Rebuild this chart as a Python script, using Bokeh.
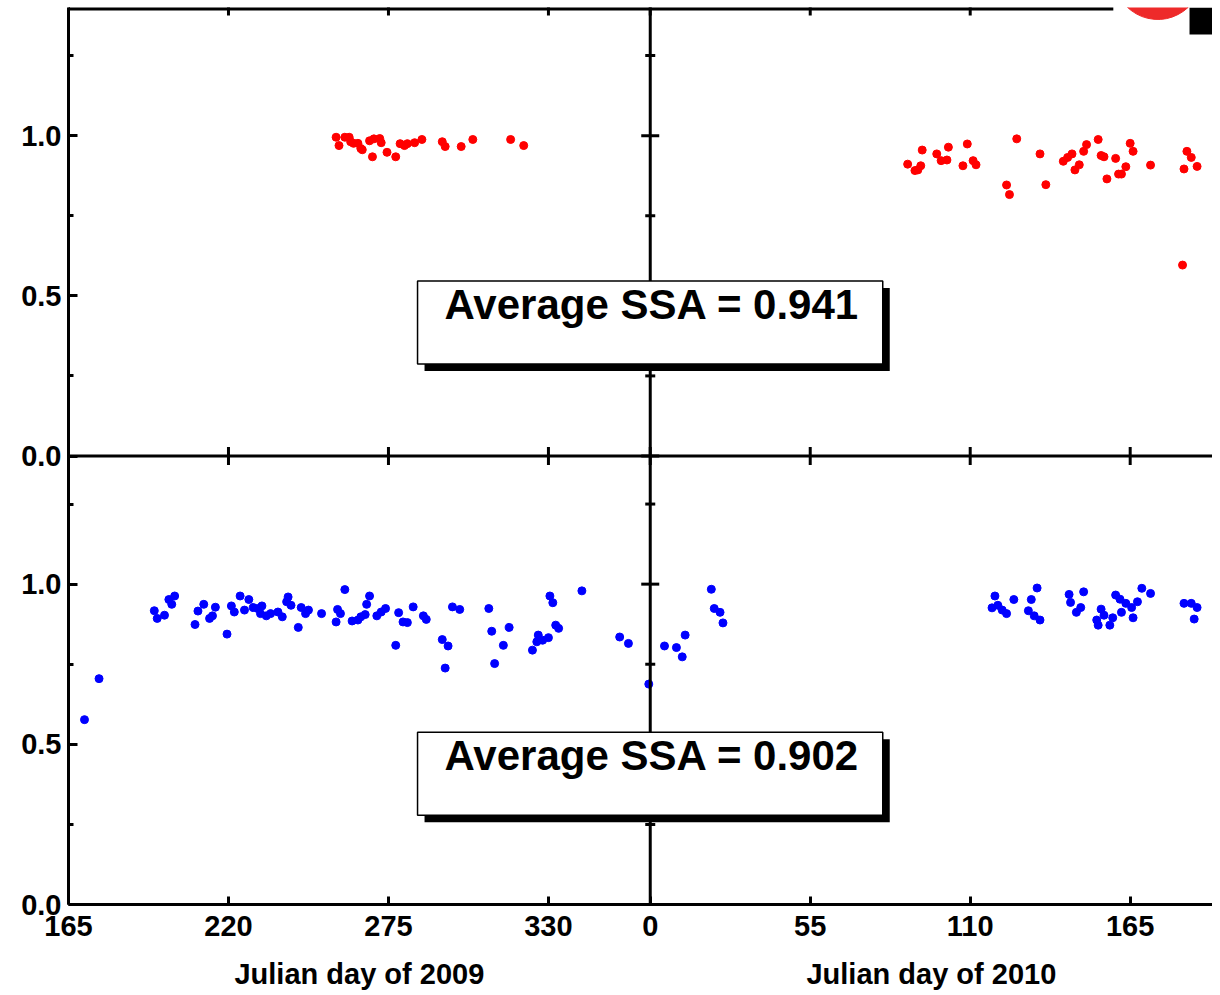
import math
from bokeh.plotting import figure
from bokeh.layouts import column
from bokeh.models import (Range1d, LinearAxis, FixedTicker, Span, Label,
                          BoxAnnotation)
from bokeh.embed import file_html
from bokeh.resources import INLINE

# ---------------- data ----------------
# Upper panel (red), 2009
top_2009_day = [257, 258, 260, 261.5, 262, 263, 264.5, 265.5, 266, 268.5, 269.5, 270,
                272, 272.5, 274.5, 277.5, 279, 280.5, 281.5, 284, 286.5, 293.5, 294.5,
                300, 304, 317, 321.5]
top_2009_ssa = [0.995, 0.969, 0.995, 0.995, 0.981, 0.976, 0.976, 0.960, 0.956, 0.984,
                0.934, 0.990, 0.991, 0.978, 0.948, 0.934, 0.975, 0.969, 0.975, 0.978,
                0.988, 0.981, 0.966, 0.966, 0.988, 0.988, 0.969]
# Upper panel (red), 2010
top_2010_day = [88.5, 91, 92, 93, 93.5, 98.5, 100, 102, 102.5, 107.5, 109, 111, 112,
                122.5, 123.5, 126, 134, 136, 142, 143.5, 145, 146, 147.5, 149, 150, 154,
                155, 156, 157, 160, 161, 162, 163.5, 165, 166, 172, 183, 183.5, 184.5,
                186, 188]
top_2010_ssa = [0.911, 0.891, 0.893, 0.906, 0.955, 0.943, 0.922, 0.924, 0.964, 0.906,
                0.974, 0.922, 0.909, 0.846, 0.816, 0.990, 0.943, 0.847, 0.920, 0.932,
                0.943, 0.893, 0.909, 0.951, 0.972, 0.988, 0.938, 0.934, 0.865, 0.929,
                0.880, 0.880, 0.903, 0.976, 0.951, 0.908, 0.596, 0.896, 0.951, 0.932,
                0.904]
# Lower panel (blue), 2009
bot_2009_day = [170.5, 175.5, 194.5, 195.5, 198, 199.5, 200.5, 201.5, 208.5, 209.5,
                211.5, 213.5, 214.5, 215.5, 219.5, 221, 222, 224, 225.5, 227, 228.5,
                230, 231.5, 231, 233, 234.5, 237, 238.5, 240, 240.5, 241.5, 244, 245,
                246.5, 247.5, 252, 257.5, 258.5, 257, 260, 262.5, 264.5, 265.5, 267,
                267.5, 268.5, 271, 272.5, 274, 277.5, 278.5, 280, 281.5, 283.5, 287,
                288, 293.5, 294.5, 295.5, 297, 299.5, 309.5, 310.5, 311.5, 314.5, 316.5,
                324.5, 326, 326.5, 328, 330, 330.5, 331.5, 332.5, 333.5, 341.5, 354.5,
                357.5, 364.5]
bot_2009_ssa = [0.577, 0.705, 0.917, 0.893, 0.903, 0.952, 0.937, 0.963, 0.874, 0.916,
                0.937, 0.893, 0.901, 0.928, 0.844, 0.932, 0.913, 0.963, 0.919, 0.952,
                0.927, 0.924, 0.932, 0.908, 0.901, 0.908, 0.913, 0.898, 0.945, 0.960,
                0.934, 0.865, 0.927, 0.908, 0.919, 0.908, 0.921, 0.908, 0.882, 0.983,
                0.885, 0.888, 0.898, 0.905, 0.937, 0.963, 0.901, 0.913, 0.924, 0.809,
                0.911, 0.882, 0.880, 0.929, 0.901, 0.890, 0.827, 0.738, 0.807, 0.929,
                0.921, 0.924, 0.853, 0.752, 0.809, 0.865, 0.794, 0.820, 0.841, 0.825,
                0.833, 0.963, 0.942, 0.872, 0.862, 0.979, 0.835, 0.815, 0.688]
# Lower panel (blue), 2010
bot_2010_day = [4.9, 9, 11, 12, 21, 22, 24, 25, 117.5, 118.5, 119.5, 121, 122.5, 125,
                130, 131, 132, 133, 134, 144, 144.5, 146.5, 148, 149, 153.5, 154, 155,
                156, 158, 159, 160, 161.5, 162, 163.5, 165.5, 166, 167.5, 169, 172,
                183.5, 186, 187, 188]
bot_2010_ssa = [0.807, 0.802, 0.773, 0.841, 0.984, 0.924, 0.912, 0.879, 0.926, 0.963,
                0.934, 0.919, 0.908, 0.952, 0.917, 0.952, 0.901, 0.988, 0.888, 0.968,
                0.943, 0.912, 0.927, 0.976, 0.888, 0.872, 0.922, 0.903, 0.872, 0.895,
                0.966, 0.953, 0.912, 0.940, 0.927, 0.895, 0.945, 0.987, 0.971, 0.940,
                0.940, 0.891, 0.927]

avg_text = ["Average SSA = 0.941", "Average SSA = 0.902"]

x_ticks_2009 = [165, 220, 275, 330]
x_ticks_2010 = [0, 55, 110, 165]
y_ticks = [0.0, 0.5, 1.0]
y_minor = [0.25, 0.75, 1.25]
axis_titles = ["Julian day of 2009", "Julian day of 2010"]

# ---------------- layout constants ----------------
X0_2009, YEAR_LEN = 165, 365       # 2009 panel: day 165 .. 365, then 2010 from day 0
X_END = 558.3                      # right edge of the drawing (2010 day ~193)
TOP_LINE_END = 524.2               # top frame line is hidden by a logo beyond this
Y_MAX = 1.4                        # each panel spans 0 .. 1.4
FONT = "Liberation Sans"
W = 1212
LEFT = 68

p = figure(width=W, height=7 + 897 + 44, output_backend="svg", toolbar_location=None,
           x_range=Range1d(X0_2009, X_END), y_range=Range1d(0, 2 * Y_MAX),
           x_axis_type=None, y_axis_type=None,
           min_border_left=LEFT, min_border_right=0, min_border_top=7,
           min_border_bottom=44)
x2010 = Range1d(X0_2009 - YEAR_LEN, X_END - YEAR_LEN)
p.extra_x_ranges = {"x2010": x2010}
p.extra_y_ranges = {"top": Range1d(-Y_MAX, Y_MAX)}
p.outline_line_color = None
p.background_fill_color = "white"
p.border_fill_color = "white"

# ---------------- points ----------------
RED, BLUE = "#ff0000", "#0000ff"
p.scatter(top_2009_day, top_2009_ssa, size=8, color=RED, y_range_name="top")
p.scatter(top_2010_day, top_2010_ssa, size=8, color=RED, y_range_name="top",
          x_range_name="x2010")
p.scatter(bot_2009_day, bot_2009_ssa, size=8, color=BLUE)
p.scatter(bot_2010_day, bot_2010_ssa, size=8, color=BLUE, x_range_name="x2010")

# ---------------- axes ----------------
yt = [t for t in y_ticks] + [t + Y_MAX for t in y_ticks]
ym = [t for t in y_minor] + [t + Y_MAX for t in y_minor]
ylab = {}
for t in y_ticks:
    ylab[t] = f"{t:.1f}"
    ylab[t + Y_MAX] = f"{t:.1f}"
yax = LinearAxis(ticker=FixedTicker(ticks=yt, minor_ticks=ym), major_label_overrides=ylab)
yax.axis_line_width = 3
yax.axis_line_color = "black"
yax.major_tick_in, yax.major_tick_out = 9, 0
yax.minor_tick_in, yax.minor_tick_out = 5, 0
yax.major_tick_line_width = 3
yax.minor_tick_line_width = 3
yax.major_label_text_font = FONT
yax.major_label_text_font_style = "bold"
yax.major_label_text_font_size = "29px"
yax.major_label_text_color = "black"
yax.major_label_standoff = 7
p.add_layout(yax, "left")

xt = list(x_ticks_2009) + [t + YEAR_LEN for t in x_ticks_2010]
xlab = {t: str(t) for t in x_ticks_2009}
xlab.update({t + YEAR_LEN: str(t) for t in x_ticks_2010})
xax = LinearAxis(ticker=FixedTicker(ticks=xt), major_label_overrides=xlab)
xax.axis_line_width = 3
xax.axis_line_color = "black"
xax.major_tick_in, xax.major_tick_out = 8, 0
xax.minor_tick_line_color = None
xax.major_tick_line_width = 3
xax.major_label_text_font = FONT
xax.major_label_text_font_style = "bold"
xax.major_label_text_font_size = "29px"
xax.major_label_text_color = "black"
xax.major_label_standoff = 11
p.add_layout(xax, "below")

# top frame line (thick, clipped to the frame) with inward ticks
p.segment(x0=[X0_2009], y0=[2 * Y_MAX], x1=[TOP_LINE_END], y1=[2 * Y_MAX],
          line_color="black", line_width=6)
top_ticks = [t for t in xt if t <= TOP_LINE_END]
p.scatter(top_ticks, [2 * Y_MAX] * len(top_ticks), marker="dash", size=16,
          angle=math.pi / 2, line_color="black", line_width=3)

# middle dividing lines with crossing ticks
p.add_layout(Span(location=YEAR_LEN, dimension="height", line_color="black", line_width=3))
p.add_layout(Span(location=Y_MAX, dimension="width", line_color="black", line_width=3))
p.scatter([YEAR_LEN] * len(yt), yt, marker="dash", size=18, line_color="black",
          line_width=3)
p.scatter([YEAR_LEN] * len(ym), ym, marker="dash", size=10, line_color="black",
          line_width=3)
p.scatter(xt, [Y_MAX] * len(xt), marker="dash", size=18, angle=math.pi / 2,
          line_color="black", line_width=3)

# ---------------- text boxes ----------------
pad = dict(left=27, right=23, top=0, bottom=36)
for txt, yv, rng in [(avg_text[0], 0.546, "top"), (avg_text[1], 0.538, "default")]:
    shadow = Label(x=285, y=yv, y_range_name=rng, text=txt, x_offset=7, y_offset=-7,
                   text_align="left", text_baseline="top", text_color="black",
                   text_font=FONT, text_font_style="bold", text_font_size="42px",
                   background_fill_color="black", padding=pad)
    box = Label(x=285, y=yv, y_range_name=rng, text=txt,
                text_align="left", text_baseline="top", text_color="black",
                text_font=FONT, text_font_style="bold", text_font_size="42px",
                background_fill_color="white", border_line_color="black",
                border_line_width=1.5, padding=pad)
    p.add_layout(shadow)
    p.add_layout(box)

# corner logo fragment (red fan and black block at top right)
p.annular_wedge(x=[539.5], y=[1.5], inner_radius=18, outer_radius=44,
                inner_radius_units="screen", outer_radius_units="screen",
                start_angle=math.radians(200), end_angle=math.radians(330),
                color="#ee2a2a", y_range_name="top")
p.add_layout(BoxAnnotation(left=550.4, bottom=1.316, y_range_name="top",
                           fill_color="black", fill_alpha=1, line_color=None))

# ---------------- axis titles strip ----------------
t = figure(width=W, height=42, output_backend="svg", toolbar_location=None,
           x_range=p.x_range, y_range=Range1d(0, 1),
           x_axis_type=None, y_axis_type=None,
           min_border_left=LEFT, min_border_right=0, min_border_top=0,
           min_border_bottom=0)
t.extra_x_ranges = {"x2010": x2010}
t.outline_line_color = None
t.grid.visible = False
t.add_layout(Label(x=(X0_2009 + YEAR_LEN) / 2, y=0.4, text=axis_titles[0],
                   text_align="center", text_baseline="middle", text_font=FONT,
                   text_font_style="bold", text_font_size="29px", text_color="black"))
t.add_layout(Label(x=(0 + X_END - YEAR_LEN) / 2, y=0.4, x_range_name="x2010",
                   text=axis_titles[1], text_align="center", text_baseline="middle",
                   text_font=FONT, text_font_style="bold", text_font_size="29px",
                   text_color="black"))

layout = column(p, t, spacing=0)
open("out.html", "w").write(file_html(layout, INLINE))
